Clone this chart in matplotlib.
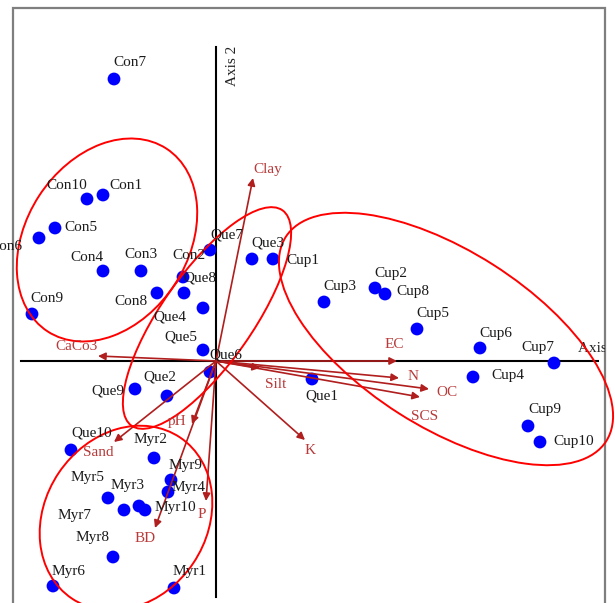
# -*- coding: utf-8 -*-
"""
Ordination biplot: sites (Con, Que, Cup, Myr) with soil variables as arrows
"""
import numpy as np
import matplotlib.pyplot as plt
from matplotlib.patches import Ellipse, Rectangle

# site scores (axis 1, axis 2)
con_names = ['Con1', 'Con2', 'Con3', 'Con4', 'Con5', 'Con6', 'Con7', 'Con8', 'Con9', 'Con10']
con_x = [-1.13, -0.33, -0.75, -1.13, -1.61, -1.77, -1.02, -0.59, -1.84, -1.29]
con_y = [1.66, 0.84, 0.90, 0.90, 1.33, 1.23, 2.82, 0.68, 0.47, 1.62]

que_names = ['Que1', 'Que2', 'Que3', 'Que4', 'Que5', 'Que6', 'Que7', 'Que8', 'Que9', 'Que10']
que_x = [0.96, -0.49, 0.36, -0.13, -0.13, -0.06, -0.06, -0.32, -0.81, -1.45]
que_y = [-0.18, -0.35, 1.02, 0.53, 0.11, -0.11, 1.11, 0.68, -0.28, -0.89]

cup_names = ['Cup1', 'Cup2', 'Cup3', 'Cup4', 'Cup5', 'Cup6', 'Cup7', 'Cup8', 'Cup9', 'Cup10']
cup_x = [0.57, 1.59, 1.08, 2.57, 2.01, 2.64, 3.38, 1.69, 3.12, 3.24]
cup_y = [1.02, 0.73, 0.59, -0.16, 0.32, 0.13, -0.02, 0.67, -0.65, -0.81]

myr_names = ['Myr1', 'Myr2', 'Myr3', 'Myr4', 'Myr5', 'Myr6', 'Myr7', 'Myr8', 'Myr9', 'Myr10']
myr_x = [-0.42, -0.62, -0.77, -0.48, -1.08, -1.63, -0.92, -1.03, -0.45, -0.71]
myr_y = [-2.27, -0.97, -1.45, -1.31, -1.37, -2.25, -1.49, -1.96, -1.19, -1.49]

# soil variables (arrow tips)
env_names = ['Clay', 'CaCo3', 'EC', 'N', 'OC', 'SCS', 'Silt', 'K', 'pH', 'Sand', 'BD', 'P']
env_x = [0.37, -1.18, 1.81, 1.83, 2.13, 2.04, 0.44, 0.89, -0.24, -1.02, -0.61, -0.10]
env_y = [1.83, 0.05, 0.00, -0.17, -0.28, -0.36, -0.07, -0.79, -0.63, -0.81, -1.67, -1.40]

# group ellipses: centre x, centre y, width, height, angle
ell_x = [-1.09, -0.09, -0.90, 2.30]
ell_y = [1.21, 0.43, -1.57, 0.22]
ell_w = [2.18, 2.63, 1.94, 3.80]
ell_h = [1.62, 0.91, 1.62, 1.76]
ell_a = [57, 55, 56, -32.5]

# label offsets in pixels (right, up)
site_off = {
    'Con1': (23, 9), 'Con2': (6, 21), 'Con3': (0, 16), 'Con4': (-16, 13), 'Con5': (26, 0),
    'Con6': (-33, -9), 'Con7': (16, 16), 'Con8': (-26, -9), 'Con9': (15, 15), 'Con10': (-20, 13),
    'Que1': (10, -17), 'Que2': (-7, 19), 'Que3': (16, 16), 'Que4': (-33, -9), 'Que5': (-22, 13),
    'Que6': (16, 17), 'Que7': (17, 15), 'Que8': (16, 15), 'Que9': (-27, -2), 'Que10': (21, 17),
    'Cup1': (30, -2), 'Cup2': (16, 14), 'Cup3': (16, 15), 'Cup4': (35, 1), 'Cup5': (16, 15),
    'Cup6': (16, 15), 'Cup7': (-16, 15), 'Cup8': (28, 2), 'Cup9': (17, 16), 'Cup10': (34, 1),
    'Myr1': (16, 16), 'Myr2': (-3, 18), 'Myr3': (-11, 21), 'Myr4': (21, 5), 'Myr5': (-20, 21),
    'Myr6': (16, 15), 'Myr7': (-49, -5), 'Myr8': (-20, 20), 'Myr9': (15, 15), 'Myr10': (30, 2),
}
env_off = {
    'Clay': (15, 8), 'CaCo3': (-22, 9), 'EC': (-3, 16), 'N': (14, 2), 'OC': (18, -3),
    'SCS': (5, -20), 'Silt': (16, -17), 'K': (5, -11), 'pH': (-15, 2), 'Sand': (-16, -10),
    'BD': (-10, -10), 'P': (-4, -13),
}

plt.rcParams['font.family'] = ['Liberation Serif', 'DejaVu Serif']
arrow_col = '#b01e1e'
envtxt_col = '#b83a3a'

fig = plt.figure(figsize=(6.15, 6.03), dpi=100)
ax = fig.add_axes([0, 0, 1, 1])
ax.set_xlim(-2.16, 3.99)
ax.set_ylim(-2.42, 3.61)
ax.axis('off')

# outer frame
frame = Rectangle((-2.03, -2.6), 5.92, 6.13, fill=False, edgecolor='#7f7f7f', lw=1.6, zorder=1)
ax.add_patch(frame)

# axis lines
ax.plot([0, 0], [-2.36, 3.14], color='black', lw=1.5, zorder=2)
ax.plot([-1.95, 3.82], [0, 0], color='black', lw=1.5, zorder=2)
ax.text(0.16, 2.95, 'Axis 2', rotation=90, fontsize=11, ha='center', va='center', color='#222222')
t = ax.text(3.62, 0.13, 'Axis 1', fontsize=11, ha='left', va='center', color='#222222',
            clip_on=True)
t.set_clip_path(frame)

# sites
all_names = con_names + que_names + cup_names + myr_names
all_x = con_x + que_x + cup_x + myr_x
all_y = con_y + que_y + cup_y + myr_y
ax.scatter(all_x, all_y, s=85, color='#0000ff', edgecolors='none', zorder=3)
for name, x, y in zip(all_names, all_x, all_y):
    ax.annotate(name, (x, y), xytext=site_off[name], textcoords='offset pixels',
                fontsize=11, ha='center', va='center', color='#1a1a1a', zorder=6,
                annotation_clip=False)

# soil variable arrows
for name, x, y in zip(env_names, env_x, env_y):
    ax.annotate('', xy=(x, y), xytext=(0, 0),
                arrowprops=dict(arrowstyle='-|>', color=arrow_col, lw=1.2,
                                mutation_scale=11, shrinkA=0, shrinkB=0), zorder=4)
    ax.annotate(name, (x, y), xytext=env_off[name], textcoords='offset pixels',
                fontsize=11, ha='center', va='center', color=envtxt_col, zorder=6)

# group ellipses
for cx, cy, w, h, a in zip(ell_x, ell_y, ell_w, ell_h, ell_a):
    ax.add_patch(Ellipse((cx, cy), w, h, angle=a, fill=False, edgecolor='#ff0000',
                         lw=1.4, zorder=5, clip_on=False))

fig.savefig('out.png', dpi=100)
